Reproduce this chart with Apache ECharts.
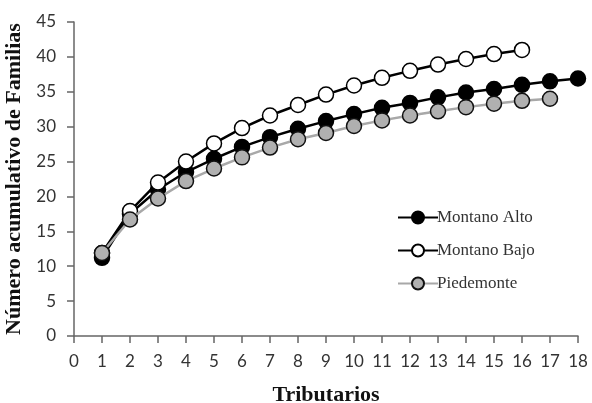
<!DOCTYPE html>
<html><head><meta charset="utf-8">
<script src="https://cdn.jsdelivr.net/npm/echarts@6/dist/echarts.min.js"></script>
<style>html,body{margin:0;padding:0;background:#fff}#c{width:592px;height:403px}</style>
</head><body><div id="c"></div>
<script>
const tributarios = [1,2,3,4,5,6,7,8,9,10,11,12,13,14,15,16,17,18];
const montanoAlto = [11.2,17.5,21.0,23.5,25.4,27.1,28.5,29.7,30.8,31.8,32.7,33.4,34.2,34.9,35.4,36.0,36.5,36.9];
const montanoBajo = [11.9,17.9,22.0,25.0,27.6,29.8,31.6,33.1,34.6,35.9,37.0,38.0,38.9,39.7,40.4,41.0];
const piedemonte = [11.9,16.7,19.7,22.2,24.0,25.6,27.0,28.2,29.1,30.1,30.9,31.6,32.2,32.8,33.3,33.7,34.0];
const names = ['Montano Alto','Montano Bajo','Piedemonte'];

function pairs(vals){ return vals.map((v,i)=>[tributarios[i], v]); }

const chart = echarts.init(document.getElementById('c'), null, {renderer:'canvas'});
const axisFont = 'Lato';
const serif = 'Liberation Serif';
chart.setOption({
  animation:false,
  backgroundColor:'#fff',
  grid:{left:74, right:14, top:22, bottom:67, containLabel:false, outerBoundsMode:'none'},
  xAxis:{type:'value', min:0, max:18, interval:1,
    name:'Tributarios', nameLocation:'middle', nameGap:48,
    nameTextStyle:{fontFamily:serif, fontWeight:'bold', fontSize:22, color:'#111'},
    axisLine:{lineStyle:{color:'#666', width:1.5}},
    axisTick:{show:true, length:7, lineStyle:{color:'#666', width:1.5}},
    axisLabel:{fontFamily:axisFont, fontSize:17, color:'#333', margin:17},
    splitLine:{show:false}},
  yAxis:{type:'value', min:0, max:45, interval:5,
    name:'Número acumulativo de Familias', nameLocation:'middle', nameGap:44, nameRotate:90,
    nameTextStyle:{fontFamily:serif, fontWeight:'bold', fontSize:22, color:'#111'},
    axisLine:{show:true, lineStyle:{color:'#666', width:1.5}},
    axisTick:{show:true, length:7, lineStyle:{color:'#666', width:1.5}},
    axisLabel:{fontFamily:axisFont, fontSize:17, color:'#333', margin:18},
    splitLine:{show:false}},
  legend:{orient:'vertical', left:392, top:204, itemGap:16, itemWidth:40, itemHeight:15,
    textStyle:{fontFamily:serif, fontSize:17, color:'#333', padding:[0,0,0,-6]},
    data:names},
  series:[
    {name:names[0], type:'line', data:pairs(montanoAlto), symbol:'circle', symbolSize:15,
     lineStyle:{color:'#000', width:2.5}, itemStyle:{color:'#000', borderColor:'#000', borderWidth:1.5}, z:2},
    {name:names[1], type:'line', data:pairs(montanoBajo), symbol:'circle', symbolSize:15,
     lineStyle:{color:'#000', width:2.5}, itemStyle:{color:'#fff', borderColor:'#000', borderWidth:1.5}, z:3},
    {name:names[2], type:'line', data:pairs(piedemonte), symbol:'circle', symbolSize:15,
     lineStyle:{color:'#a8a8a8', width:2.5}, itemStyle:{color:'#b0b0b0', borderColor:'#111', borderWidth:1.5}, z:4}
  ]
});
</script></body></html>
